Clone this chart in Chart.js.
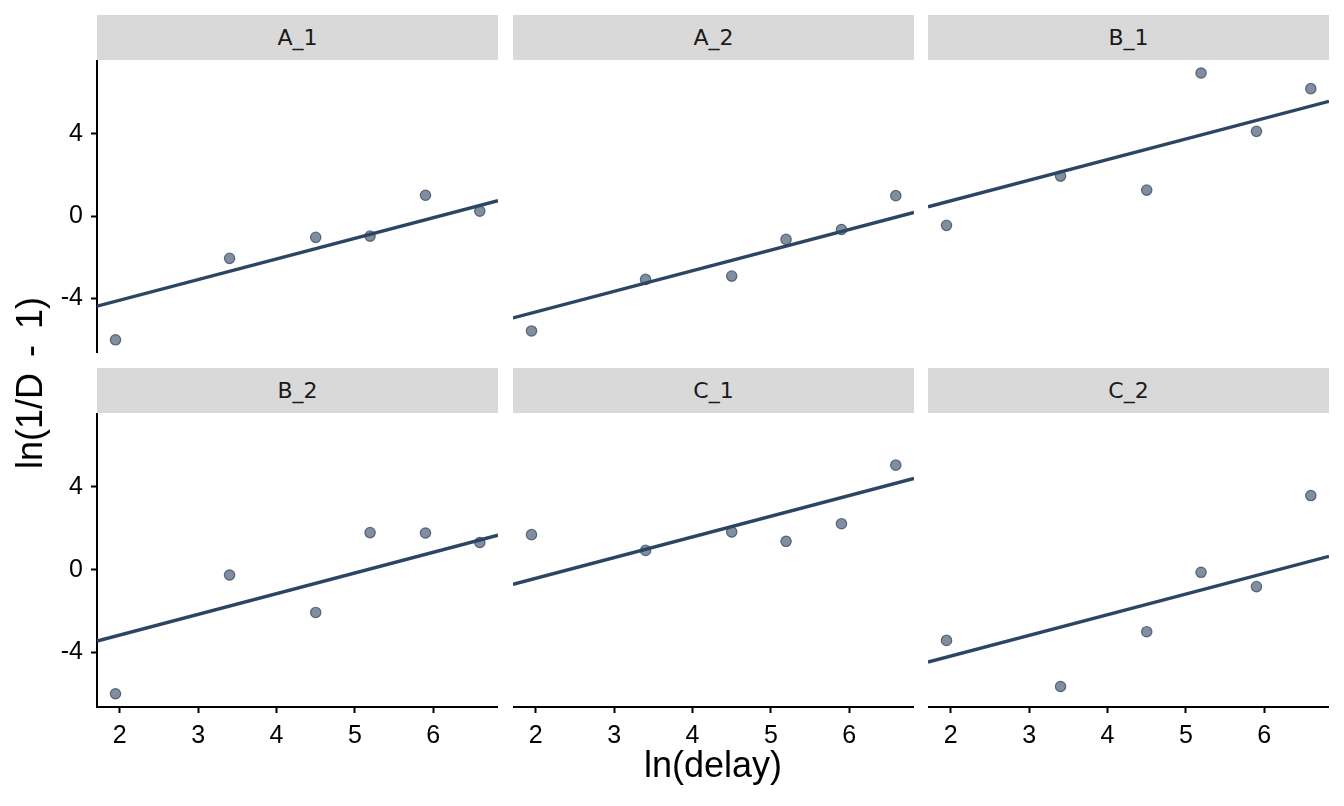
<!DOCTYPE html>
<html>
<head>
<meta charset="utf-8">
<script src="https://cdn.jsdelivr.net/npm/chart.js@4.4.0/dist/chart.umd.min.js"></script>
<style>
  body { margin: 0; background: #fff; }
  #wrap { position: relative; width: 1344px; height: 806px; overflow: hidden; }
  .strip { position: absolute; background: #d9d9d9; color: #1a1a1a; font: 22px "DejaVu Sans";
           display: flex; align-items: center; justify-content: center; }
  canvas { position: absolute; }
  .ttl { position: absolute; font: 36px "Liberation Sans"; line-height: 1; color: #000; white-space: nowrap; }
</style>
</head>
<body>
<div id="wrap"></div>
<script>
// facets, in reading order
var panels = ['A_1', 'A_2', 'B_1', 'B_2', 'C_1', 'C_2'];
var lnDelay = [1.946, 3.401, 4.500, 5.193, 5.900, 6.593];

var yA1 = [-6.00, -2.05, -1.03, -0.97, 1.01, 0.24];
var yA2 = [-5.57, -3.07, -2.91, -1.13, -0.65, 0.99];
var yB1 = [-0.45, 1.94, 1.26, 6.94, 4.11, 6.18];
var yB2 = [-6.00, -0.26, -2.07, 1.79, 1.77, 1.31];
var yC1 = [1.69, 0.93, 1.82, 1.37, 2.22, 5.05];
var yC2 = [-3.42, -5.65, -3.00, -0.13, -0.82, 3.58];
var panelY = [yA1, yA2, yB1, yB2, yC1, yC2];

// fitted lines (intercept + slope * ln(delay))
var fitIntercept = [-6.08, -6.65, -1.26, -5.16, -2.42, -6.18];
var fitSlope = [1.0, 1.0, 1.0, 1.0, 1.0, 1.0];

var xTicks = [2, 3, 4, 5, 6];
var yTicks = [-4, 0, 4];
var xMin = 1.71, xMax = 6.825;
var yMin = -6.64, yMax = 7.57;

var lineColor = '#2b4562';
var colLeft = [97, 513, 928];
var rowTop = [60, 413];
var rowH = [293, 294];
var stripTop = [15, 368];
var panelW = 401;
var yAxisW = 97, xAxisH = 100;

var wrap = document.getElementById('wrap');

function noPadding(s) {
  s.paddingTop = 0; s.paddingBottom = 0; s.paddingLeft = 0; s.paddingRight = 0;
}

panels.forEach(function(name, i) {
  var r = Math.floor(i / 3), c = i % 3;
  var leftAxis = (c === 0), bottomAxis = (r === 1);

  var strip = document.createElement('div');
  strip.className = 'strip';
  strip.style.left = colLeft[c] + 'px';
  strip.style.top = stripTop[r] + 'px';
  strip.style.width = panelW + 'px';
  strip.style.height = '45px';
  strip.textContent = name;
  wrap.appendChild(strip);

  var cv = document.createElement('canvas');
  var w = panelW + (leftAxis ? yAxisW : 0);
  var h = rowH[r] + (bottomAxis ? xAxisH : 0);
  cv.width = w; cv.height = h;
  cv.style.width = w + 'px'; cv.style.height = h + 'px';
  cv.style.left = (colLeft[c] - (leftAxis ? yAxisW : 0)) + 'px';
  cv.style.top = rowTop[r] + 'px';
  wrap.appendChild(cv);

  var pts = lnDelay.map(function(x, k) { return {x: x, y: panelY[i][k]}; });
  var fit = [xMin, xMax].map(function(x) { return {x: x, y: fitIntercept[i] + fitSlope[i] * x}; });

  var axisGrid = {display: true, drawOnChartArea: false, drawTicks: true, tickLength: 6, tickWidth: 2, tickColor: '#000'};
  var axisBorder = {display: true, color: '#000', width: 2};
  var tickFont = {family: 'Liberation Sans', size: 25};

  new Chart(cv.getContext('2d'), {
    type: 'scatter',
    data: {
      datasets: [{
        type: 'line',
        data: fit,
        borderColor: lineColor,
        borderWidth: 3.4,
        pointRadius: 0,
        fill: false
      }, {
        data: pts,
        pointRadius: 5.2,
        pointBackgroundColor: 'rgba(44,66,94,0.6)',
        pointBorderColor: 'rgba(44,66,94,0.72)',
        pointBorderWidth: 1.2
      }]
    },
    options: {
      responsive: false,
      animation: false,
      devicePixelRatio: 1,
      layout: {padding: 0, autoPadding: false},
      plugins: {legend: {display: false}, tooltip: {enabled: false}},
      scales: {
        x: {
          type: 'linear', min: xMin, max: xMax, display: bottomAxis,
          afterBuildTicks: function(s) { s.ticks = xTicks.map(function(v) { return {value: v}; }); },
          afterFit: function(s) { noPadding(s); if (bottomAxis) s.height = xAxisH; },
          grid: axisGrid, border: axisBorder,
          ticks: {color: '#000', font: tickFont, padding: 8, maxRotation: 0, autoSkip: false}
        },
        y: {
          type: 'linear', min: yMin, max: yMax, display: leftAxis,
          afterBuildTicks: function(s) { s.ticks = yTicks.map(function(v) { return {value: v}; }); },
          afterFit: function(s) { noPadding(s); if (leftAxis) s.width = yAxisW; },
          grid: axisGrid, border: axisBorder,
          ticks: {color: '#000', font: tickFont, padding: 8, autoSkip: false}
        }
      }
    }
  });
});

var xt = document.createElement('div');
xt.className = 'ttl';
xt.textContent = 'ln(delay)';
xt.style.left = '713px';
xt.style.top = '747px';
xt.style.transform = 'translate(-50%,0)';
wrap.appendChild(xt);

var yt = document.createElement('div');
yt.className = 'ttl';
yt.textContent = 'ln(1/D - 1)';
yt.style.left = '30px';
yt.style.top = '383px';
yt.style.wordSpacing = '6px';
yt.style.transform = 'translate(-50%,-50%) rotate(-90deg)';
wrap.appendChild(yt);
</script>
</body>
</html>
